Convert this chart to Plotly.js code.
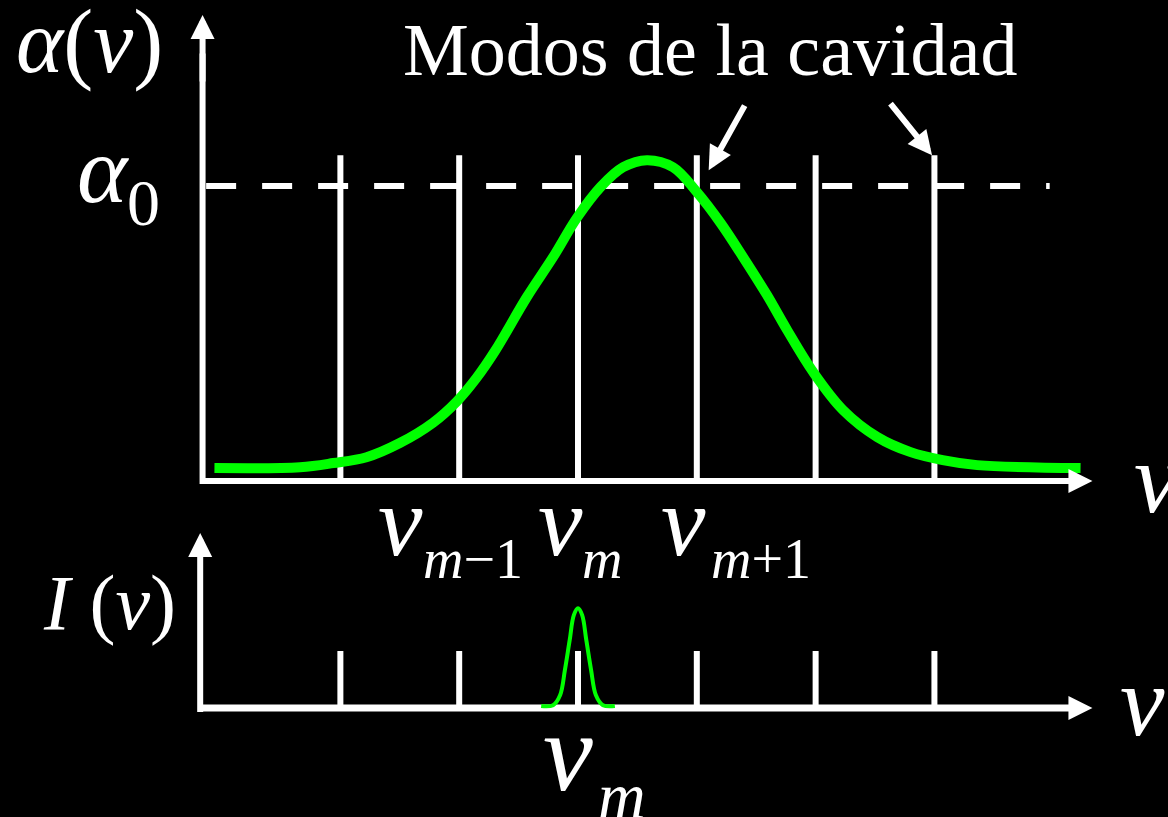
<!DOCTYPE html>
<html>
<head>
<meta charset="utf-8">
<script src="https://cdn.plot.ly/plotly-3.0.1.min.js"></script>
<style>
  html, body { margin: 0; padding: 0; background: #000; }
  #plot { width: 1168px; height: 817px; }
</style>
</head>
<body>
<div id="plot"></div>
<script>
// Cavity modes (relative mode index, m = 0)
const modeNu = [-2, -1, 0, 1, 2, 3];
const modeHeight = 1.105;        // top panel, in units of alpha0
const tickHeight = 1.0;          // bottom panel mode ticks
const alpha0 = 1.0;
const dashedNu = [-3.13, 3.97];

// Gain curve alpha(nu)
const gainNu = [-3.06, -2.34, -2.06, -1.78, -1.50, -1.22, -1.02, -0.85, -0.70, -0.43,
                -0.21, -0.01, 0.19, 0.38, 0.58, 0.80, 1.00, 1.20, 1.39, 1.59,
                1.76, 1.98, 2.23, 2.52, 2.80, 3.07, 3.36, 4.23];
const gainAlpha = [0.044, 0.047, 0.061, 0.081, 0.129, 0.198, 0.270, 0.352, 0.440, 0.624,
                   0.759, 0.892, 0.997, 1.064, 1.088, 1.064, 0.980, 0.875, 0.759, 0.631,
                   0.512, 0.369, 0.241, 0.149, 0.098, 0.071, 0.054, 0.044];

// Laser output I(nu): single line at nu_m
const laserNu = [-0.31, -0.21, -0.15, -0.11, -0.07, -0.035, 0, 0.035, 0.07, 0.11, 0.15, 0.21, 0.31];
const laserI  = [0.035, 0.05, 0.23, 0.67, 1.19, 1.63, 1.75, 1.63, 1.19, 0.67, 0.23, 0.05, 0.035];

// Axes extents
const topAxisX = [-3.16, 4.20];
const topAxisY = [-0.01, 1.45];
const botAxisX = [-3.18, 4.20];
const botAxisY = [-0.07, 2.9];

const WHITE = "#ffffff";
const GREEN = "#00ff00";
const FONT = "Liberation Serif, Times New Roman, serif";

function stems(xs, h){
    let x = [], y = [];
    xs.forEach(v => { x.push(v, v, null); y.push(0, h, null); });
    return {x, y};
}

const modesTop = stems(modeNu, modeHeight);
const modesBot = stems(modeNu, tickHeight);

const traces = [
    // top panel axes
    {x: [topAxisX[0], topAxisX[1]], y: [0, 0], yaxis: "y", mode: "lines",
     line: {color: WHITE, width: 6}, hoverinfo: "skip"},
    {x: [topAxisX[0], topAxisX[0]], y: [topAxisY[0], topAxisY[1]], yaxis: "y", mode: "lines",
     line: {color: WHITE, width: 6}, hoverinfo: "skip"},
    // dashed alpha0 level
    {x: dashedNu, y: [alpha0, alpha0], yaxis: "y", mode: "lines",
     line: {color: WHITE, width: 6, dash: "30px,26px"}, hoverinfo: "skip"},
    // cavity modes
    {x: modesTop.x, y: modesTop.y, yaxis: "y", mode: "lines",
     line: {color: WHITE, width: 6}, hoverinfo: "skip"},
    // gain curve
    {x: gainNu, y: gainAlpha, yaxis: "y", mode: "lines",
     line: {color: GREEN, width: 10, shape: "spline", smoothing: 1}, hoverinfo: "skip"},

    // bottom panel axes
    {x: [botAxisX[0], botAxisX[1]], y: [0, 0], yaxis: "y2", mode: "lines",
     line: {color: WHITE, width: 7}, hoverinfo: "skip"},
    {x: [botAxisX[0], botAxisX[0]], y: [botAxisY[0], botAxisY[1]], yaxis: "y2", mode: "lines",
     line: {color: WHITE, width: 6}, hoverinfo: "skip"},
    {x: modesBot.x, y: modesBot.y, yaxis: "y2", mode: "lines",
     line: {color: WHITE, width: 6}, hoverinfo: "skip"},
    {x: laserNu, y: laserI, yaxis: "y2", mode: "lines",
     line: {color: GREEN, width: 4, shape: "spline", smoothing: 1}, hoverinfo: "skip"}
];

function head(x, y, ax, ay, yref){
    return {x: x, y: y, ax: ax, ay: ay, xref: "x", yref: yref, axref: "x", ayref: yref,
            text: "", showarrow: true, arrowhead: 2, arrowsize: 0.8, arrowwidth: 6,
            arrowcolor: WHITE, standoff: 0};
}

function label(text, x, y, yref, size, xanchor){
    return {x: x, y: y, xref: "x", yref: yref, text: text, showarrow: false,
            xanchor: xanchor || "center", yanchor: "middle",
            font: {family: FONT, size: size, color: WHITE}};
}

const nu = "<i>ν</i>";

const annotations = [
    // arrowheads on the axes
    head(4.33, 0, 4.05, 0, "y"),
    head(topAxisX[0], 1.58, topAxisX[0], 1.35, "y"),
    head(4.33, 0, 4.05, 0, "y2"),
    head(botAxisX[0], 3.07, botAxisX[0], 2.7, "y2"),
    // arrows pointing to the modes
    head(1.10, 1.054, 1.41, 1.278, "y"),
    head(2.98, 1.105, 2.62, 1.285, "y"),

    label("<i>α</i>(<i>ν</i>)", -4.11, 1.49, "y", 90),
    label("<i>α</i>", -3.76, alpha0 + 0.055, "y", 96, "right"),
    label("0", -3.50, alpha0 - 0.055, "y", 66, "right"),
    label("Modos de la cavidad", 1.11, 1.461, "y", 74),

    // mode labels under the top axis
    label(nu, -1.70, -0.136, "y", 100, "left"),
    label("<i>m</i>−1", -1.32, -0.264, "y", 56, "left"),
    label(nu, -0.354, -0.136, "y", 100, "left"),
    label("<i>m</i>", 0.017, -0.264, "y", 56, "left"),
    label(nu, 0.682, -0.136, "y", 100, "left"),
    label("<i>m</i>+1", 1.103, -0.264, "y", 56, "left"),
    label(nu, 4.66, 0.01, "y", 100, "left"),

    label("<i>I</i> (<i>ν</i>)", -3.94, 1.85, "y2", 78),
    label(nu, 4.545, 0.12, "y2", 100, "left"),
    label(nu, -0.311, -0.77, "y2", 112, "left"),
    label("<i>m</i>", 0.15, -1.53, "y2", 66, "left")
];

const layout = {
    width: 1168,
    height: 817,
    margin: {l: 0, r: 0, t: 0, b: 0},
    paper_bgcolor: "#000000",
    plot_bgcolor: "#000000",
    showlegend: false,
    xaxis: {range: [-4.865, 4.966], visible: false, fixedrange: true},
    yaxis: {range: [-1.139, 1.631], visible: false, fixedrange: true},
    yaxis2: {range: [-1.912, 12.421], visible: false, fixedrange: true,
             overlaying: "y", anchor: "x"},
    annotations: annotations
};

Plotly.newPlot("plot", traces, layout, {staticPlot: true, displayModeBar: false});
</script>
</body>
</html>
